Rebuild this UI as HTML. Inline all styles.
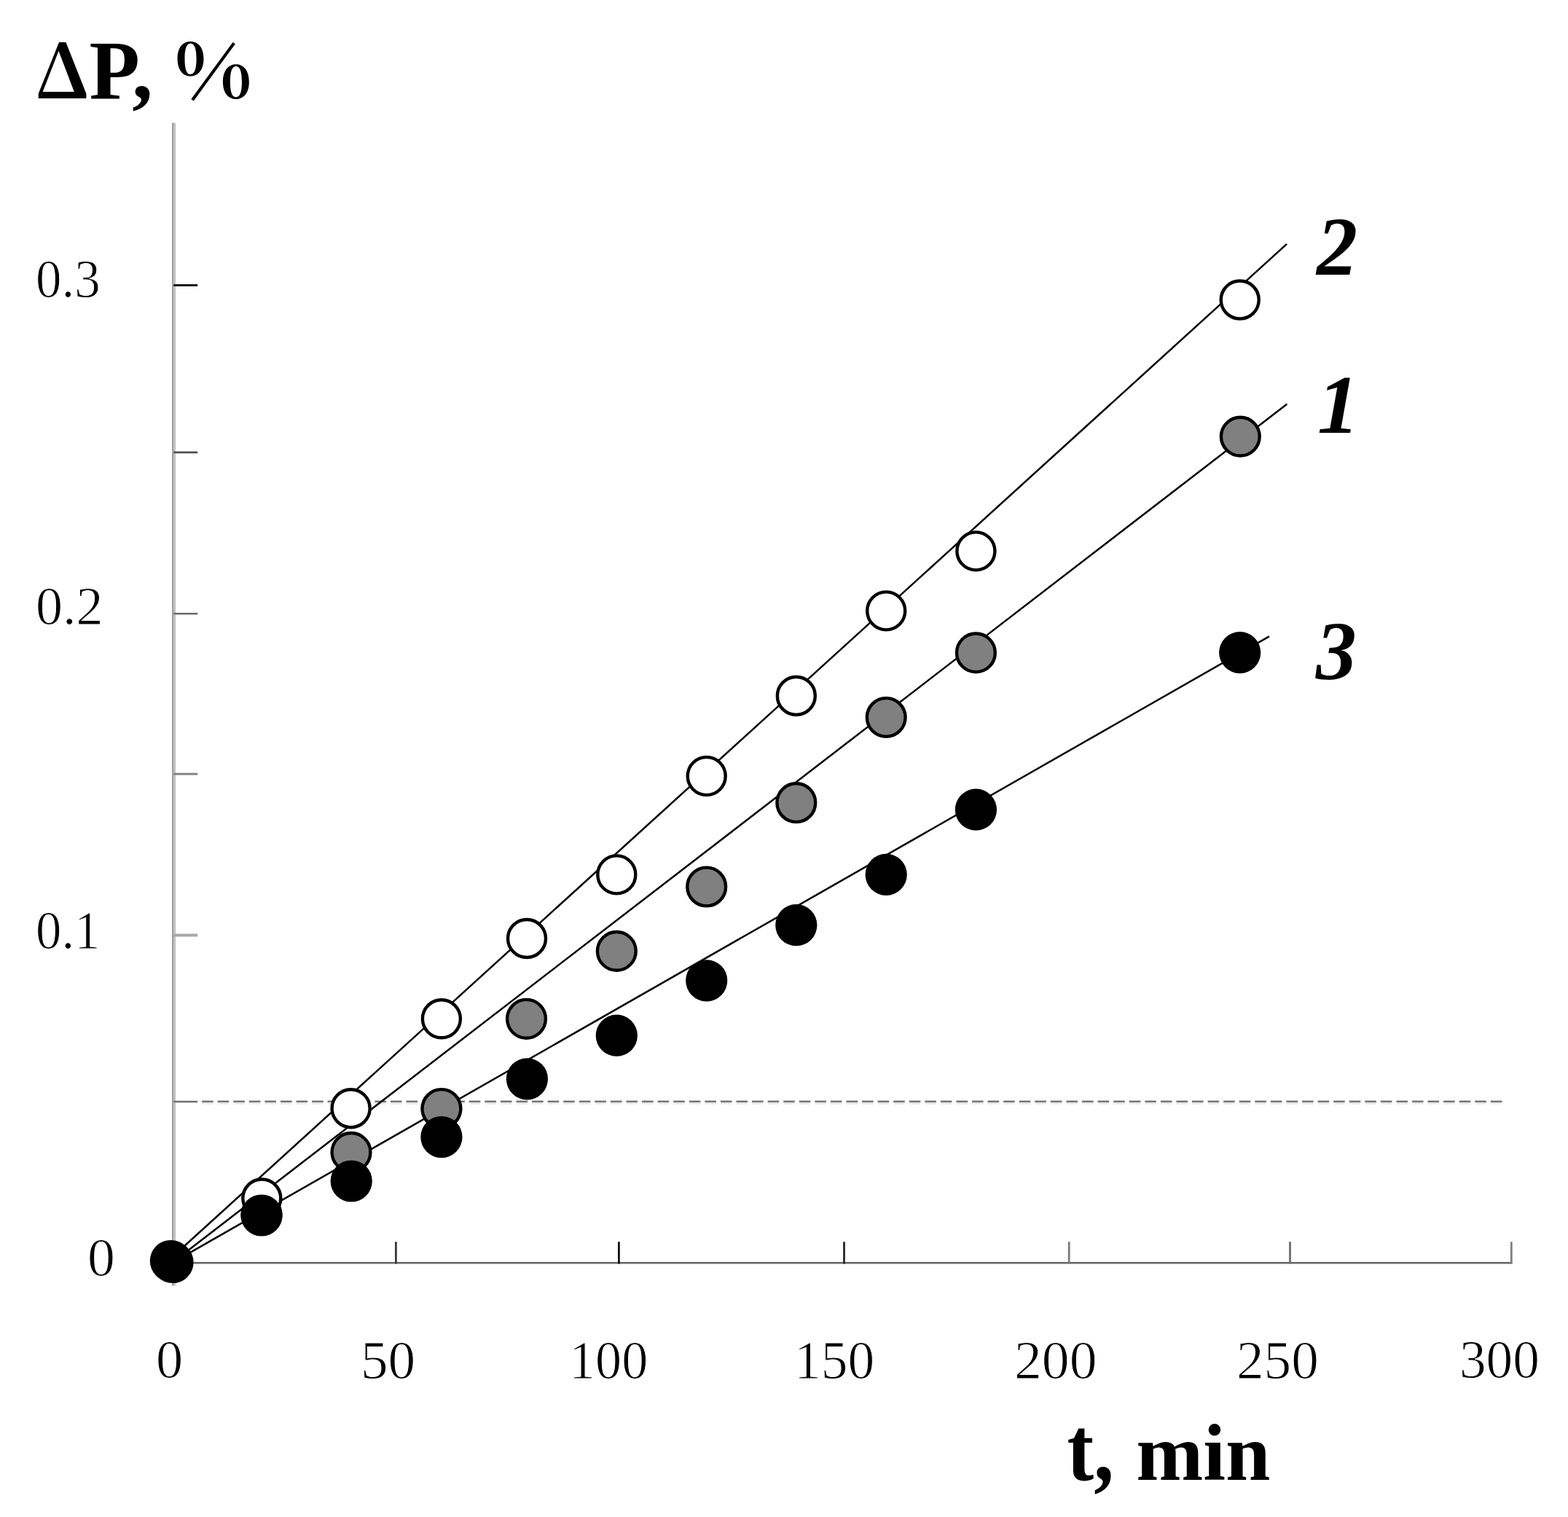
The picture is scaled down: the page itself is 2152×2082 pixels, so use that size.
<!DOCTYPE html>
<html><head><meta charset="utf-8"><title>Delta P vs t</title><style>html,body{margin:0;padding:0;background:#fff;}body{width:2152px;height:2082px;overflow:hidden;}svg{display:block;}</style></head><body>
<svg width="2152" height="2082" viewBox="0 0 2152 2082">
<rect width="2152" height="2082" fill="#fff"/>
<rect x="236" y="168.7" width="2.6" height="1596" fill="#9d9d9d"/>
<rect x="238.6" y="168.7" width="2.4" height="1596" fill="#c0c0c0"/>
<line x1="238.3" y1="391.4" x2="271.2" y2="391.4" stroke="#161616" stroke-width="3"/>
<line x1="238.3" y1="620.9" x2="271.2" y2="620.9" stroke="#505050" stroke-width="2.6"/>
<line x1="238.3" y1="842.2" x2="271.2" y2="842.2" stroke="#686868" stroke-width="2.6"/>
<line x1="238.3" y1="1062.3" x2="271.2" y2="1062.3" stroke="#858585" stroke-width="3"/>
<line x1="238.3" y1="1283.5" x2="271.2" y2="1283.5" stroke="#a8a8a8" stroke-width="4"/>
<line x1="238.3" y1="1512" x2="271.2" y2="1512" stroke="#6e6e6e" stroke-width="2.6"/>
<line x1="277.1" y1="1514.6" x2="2062" y2="1514.6" stroke="#e3e3e3" stroke-width="2" stroke-dasharray="15.6 5.97"/>
<line x1="277.1" y1="1511.8" x2="2062" y2="1511.8" stroke="#767676" stroke-width="2.5" stroke-dasharray="15.6 5.97"/>
<line x1="238" y1="1733.3" x2="2075.6" y2="1733.3" stroke="#646464" stroke-width="2.6"/>
<line x1="543.4" y1="1704.3" x2="543.4" y2="1734.5" stroke="#3a3a3a" stroke-width="2.8"/>
<line x1="849.4" y1="1704.3" x2="849.4" y2="1734.5" stroke="#101010" stroke-width="2.8"/>
<line x1="1158.5" y1="1704.3" x2="1158.5" y2="1734.5" stroke="#262626" stroke-width="2.8"/>
<line x1="1467.2" y1="1704.3" x2="1467.2" y2="1734.5" stroke="#7a7a7a" stroke-width="2.8"/>
<line x1="1770.5" y1="1704.3" x2="1770.5" y2="1734.5" stroke="#6e6e6e" stroke-width="2.8"/>
<line x1="2074.3" y1="1704.3" x2="2074.3" y2="1734.5" stroke="#808080" stroke-width="2.8"/>
<line x1="236" y1="1733.2" x2="1766.4" y2="554.4" stroke="#000" stroke-width="2.5"/>
<line x1="236" y1="1725.6" x2="1766" y2="334.9" stroke="#000" stroke-width="2.5"/>
<line x1="236" y1="1733.3" x2="1742" y2="873.4" stroke="#000" stroke-width="2.5"/>
<circle cx="237" cy="1732.5" r="26.4" fill="#808080" stroke="#000" stroke-width="4.4"/>
<circle cx="359" cy="1667" r="26.4" fill="#808080" stroke="#000" stroke-width="4.4"/>
<circle cx="482" cy="1581.4" r="26.4" fill="#808080" stroke="#000" stroke-width="4.4"/>
<circle cx="605.9" cy="1521.5" r="26.4" fill="#808080" stroke="#000" stroke-width="4.4"/>
<circle cx="722.5" cy="1398.3" r="26.4" fill="#808080" stroke="#000" stroke-width="4.4"/>
<circle cx="846.3" cy="1305.4" r="26.4" fill="#808080" stroke="#000" stroke-width="4.4"/>
<circle cx="969.7" cy="1217" r="26.4" fill="#808080" stroke="#000" stroke-width="4.4"/>
<circle cx="1092.8" cy="1101.7" r="26.4" fill="#808080" stroke="#000" stroke-width="4.4"/>
<circle cx="1216.2" cy="984.5" r="26.4" fill="#808080" stroke="#000" stroke-width="4.4"/>
<circle cx="1339.4" cy="895.9" r="26.4" fill="#808080" stroke="#000" stroke-width="4.4"/>
<circle cx="1702.3" cy="599.1" r="26.4" fill="#808080" stroke="#000" stroke-width="4.4"/>
<circle cx="359.3" cy="1644.5" r="26.0" fill="#fff" stroke="#000" stroke-width="4.4"/>
<circle cx="481.6" cy="1521.2" r="26.0" fill="#fff" stroke="#000" stroke-width="4.4"/>
<circle cx="605.9" cy="1398.3" r="26.0" fill="#fff" stroke="#000" stroke-width="4.4"/>
<circle cx="723" cy="1288" r="26.0" fill="#fff" stroke="#000" stroke-width="4.4"/>
<circle cx="846.3" cy="1200.4" r="26.0" fill="#fff" stroke="#000" stroke-width="4.4"/>
<circle cx="969.7" cy="1065.1" r="26.0" fill="#fff" stroke="#000" stroke-width="4.4"/>
<circle cx="1092.8" cy="955" r="26.0" fill="#fff" stroke="#000" stroke-width="4.4"/>
<circle cx="1216.2" cy="838.4" r="26.0" fill="#fff" stroke="#000" stroke-width="4.4"/>
<circle cx="1339.4" cy="756.4" r="26.0" fill="#fff" stroke="#000" stroke-width="4.4"/>
<circle cx="1701.7" cy="411.5" r="26.0" fill="#fff" stroke="#000" stroke-width="4.4"/>
<circle cx="234.4" cy="1730.5" r="28.6" fill="#000"/>
<circle cx="359" cy="1668" r="28.6" fill="#000"/>
<circle cx="482.2" cy="1621" r="28.6" fill="#000"/>
<circle cx="605.9" cy="1560.5" r="28.6" fill="#000"/>
<circle cx="723.4" cy="1480.8" r="28.6" fill="#000"/>
<circle cx="846.3" cy="1421.2" r="28.6" fill="#000"/>
<circle cx="969.7" cy="1345.8" r="28.6" fill="#000"/>
<circle cx="1092.8" cy="1269.7" r="28.6" fill="#000"/>
<circle cx="1216.2" cy="1200.4" r="28.6" fill="#000"/>
<circle cx="1339.4" cy="1111.2" r="28.6" fill="#000"/>
<circle cx="1701.7" cy="895.6" r="28.6" fill="#000"/>
<g font-family='"Liberation Serif", "Times New Roman", serif' fill="#000">
<text y="134.7" font-size="115" font-weight="bold"><tspan x="47.4" font-family="'Noto Serif CJK SC', serif" font-size="103" textLength="75.41" lengthAdjust="spacingAndGlyphs">Δ</tspan><tspan x="122.4" textLength="87.38" lengthAdjust="spacingAndGlyphs">P,</tspan> <tspan x="239" y="134.6" font-family="'Noto Serif CJK SC', serif" font-size="103.89" textLength="107.42" lengthAdjust="spacingAndGlyphs">%</tspan></text>
<text y="2031.1" font-weight="bold"><tspan x="1464.6" font-size="124" textLength="64.1" lengthAdjust="spacingAndGlyphs">t,</tspan> <tspan x="1559.2" font-size="110.5" textLength="184.21" lengthAdjust="spacingAndGlyphs">min</tspan></text>
<text x="49" y="407.6" font-size="73" stroke="#fff" stroke-width="1" textLength="88.63" lengthAdjust="spacingAndGlyphs">0.3</text>
<text x="49" y="856.5" font-size="73" stroke="#fff" stroke-width="1" textLength="92.57" lengthAdjust="spacingAndGlyphs">0.2</text>
<text x="49" y="1302" font-size="73" stroke="#fff" stroke-width="1" textLength="88.52" lengthAdjust="spacingAndGlyphs">0.1</text>
<text x="120" y="1751.4" font-size="73" stroke="#fff" stroke-width="1" textLength="37.9" lengthAdjust="spacingAndGlyphs">0</text>
<text x="214" y="1891.2" font-size="73" stroke="#fff" stroke-width="1" textLength="37.15" lengthAdjust="spacingAndGlyphs">0</text>
<text x="495" y="1891.6" font-size="73" stroke="#fff" stroke-width="1" textLength="75.23" lengthAdjust="spacingAndGlyphs">50</text>
<text x="781" y="1891.8" font-size="73" stroke="#fff" stroke-width="1" textLength="108.24" lengthAdjust="spacingAndGlyphs">100</text>
<text x="1090" y="1891.8" font-size="73" stroke="#fff" stroke-width="1" textLength="110.18" lengthAdjust="spacingAndGlyphs">150</text>
<text x="1392" y="1891.8" font-size="73" stroke="#fff" stroke-width="1" textLength="113.56" lengthAdjust="spacingAndGlyphs">200</text>
<text x="1697" y="1891.8" font-size="73" stroke="#fff" stroke-width="1" textLength="112.79" lengthAdjust="spacingAndGlyphs">250</text>
<text x="2003" y="1891.4" font-size="73" stroke="#fff" stroke-width="1" textLength="109.84" lengthAdjust="spacingAndGlyphs">300</text>
<text x="1807" y="376.5" font-size="115" font-weight="bold" font-style="italic" textLength="56.08" lengthAdjust="spacingAndGlyphs">2</text>
<text x="1808.05" y="594.1" font-size="115" font-weight="bold" font-style="italic">1</text>
<text x="1806" y="932.3" font-size="115" font-weight="bold" font-style="italic" textLength="55.76" lengthAdjust="spacingAndGlyphs">3</text>
</g>
</svg>
</body></html>
